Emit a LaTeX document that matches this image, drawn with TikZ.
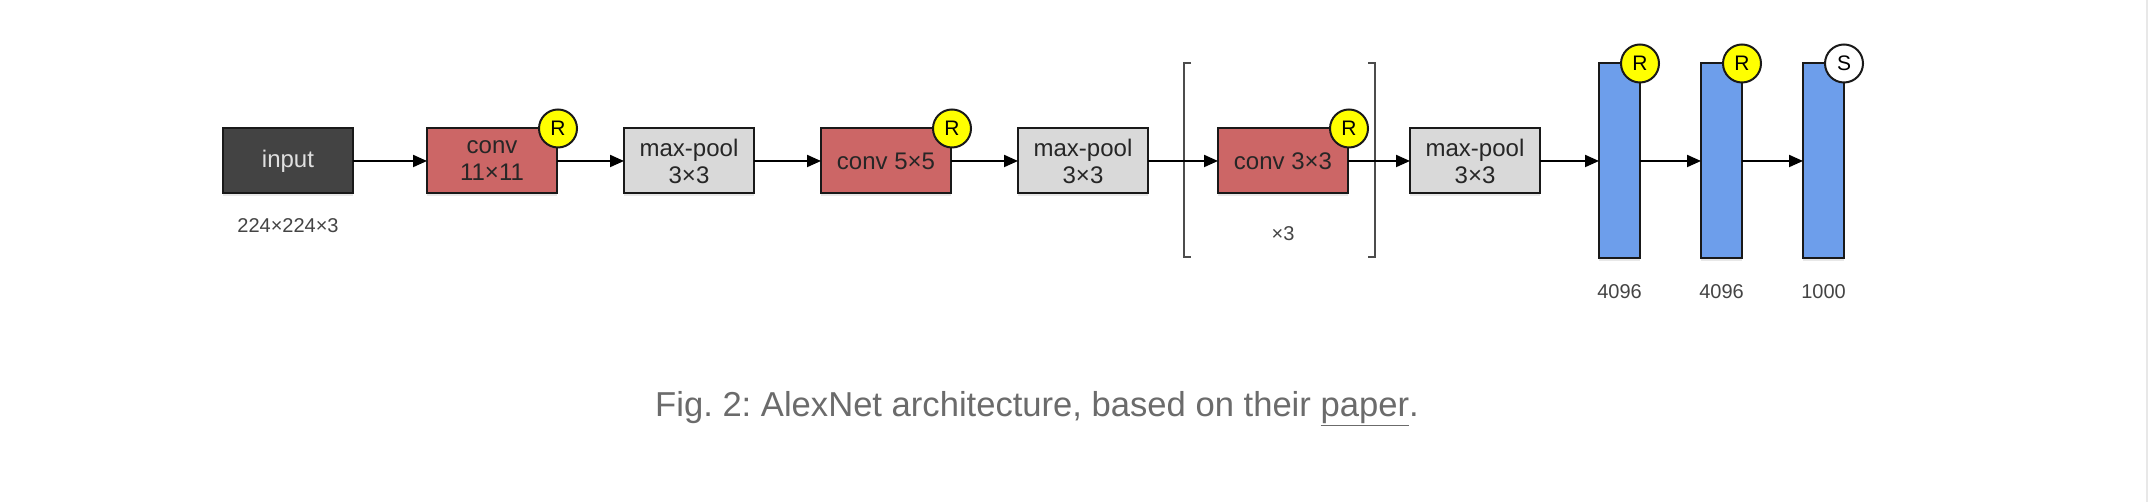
\documentclass[tikz,border=0pt]{standalone}
\usepackage{fontspec}
\setmainfont{Liberation Sans}
\usetikzlibrary{arrows.meta,positioning,shadows}
\definecolor{inputgray}{HTML}{434343}
\definecolor{convred}{HTML}{CC6666}
\definecolor{poolgray}{HTML}{D9D9D9}
\definecolor{fcblue}{HTML}{6D9EEB}
\definecolor{reluyellow}{HTML}{FFFF00}
\definecolor{labelgray}{HTML}{444444}
\definecolor{captiongray}{HTML}{6B6B6B}
\definecolor{edgegray}{HTML}{E8E8E8}
\tikzset{
  layerbox/.style={draw=black!90, line width=2pt, align=center, outer sep=0pt,
    minimum width=130pt, minimum height=65pt, inner sep=0pt,
    font=\fontsize{24}{27}\selectfont, text=black!85,
    drop shadow={shadow xshift=0pt, shadow yshift=-3pt, opacity=0.18}},
  inputbox/.style={layerbox, fill=inputgray, text=white!88!black},
  convbox/.style={layerbox, fill=convred},
  poolbox/.style={layerbox, fill=poolgray},
  fcbar/.style={layerbox, fill=fcblue, minimum width=41pt, minimum height=195pt},
  actdot/.style={circle, draw=black!90, line width=2pt, fill=reluyellow,
    minimum size=38pt, inner sep=0pt, font=\fontsize{21}{23}\selectfont},
  softdot/.style={actdot, fill=white},
  sizelabel/.style={font=\fontsize{20}{22}\selectfont, text=labelgray},
  bracket/.style={draw=black!70, line width=1.5pt},
  arr/.style={-{Triangle[length=14pt, width=12pt]}, line width=2pt, draw=black}
}
\begin{document}
\begin{tikzpicture}[x=1pt, y=1pt, node distance=67pt]
    \useasboundingbox[fill=white] (0,0) rectangle (2156,502);
    \draw[edgegray, line width=2pt] (2147,0) -- (2147,502);
    % feature layers
    \node[inputbox] (input) at (288,341) {input};
    \node[convbox, right=74pt of input] (conv1) {conv\\11×11};
    \node[poolbox, right=of conv1] (pool1) {max-pool\\3×3};
    \node[convbox, right=of pool1] (conv2) {conv 5×5};
    \node[poolbox, right=of conv2] (pool2) {max-pool\\3×3};
    \node[convbox, right=70pt of pool2] (conv3) {conv 3×3};
    \node[poolbox, right=62pt of conv3] (pool3) {max-pool\\3×3};
    % dense layers
    \node[fcbar, right=59pt of pool3] (fc1) {};
    \node[fcbar, right=61pt of fc1] (fc2) {};
    \node[fcbar, right=61pt of fc2] (fc3) {};
    % activations
    \node[actdot, xshift=1pt] (relu1) at (conv1.north east) {R};
    \node[actdot, xshift=1pt] (relu2) at (conv2.north east) {R};
    \node[actdot, xshift=1pt] (relu3) at (conv3.north east) {R};
    \node[actdot] (relu4) at (fc1.north east) {R};
    \node[actdot] (relu5) at (fc2.north east) {R};
    \node[softdot] (soft) at (fc3.north east) {S};
    % sizes
    \node[sizelabel, below=22pt of input] (insize) {224×224×3};
    \node[sizelabel, below=30pt of conv3] (repeat) {×3};
    \node[sizelabel, below=23pt of fc1] (fc1size) {4096};
    \node[sizelabel, below=23pt of fc2] (fc2size) {4096};
    \node[sizelabel, below=23pt of fc3] (fc3size) {1000};
    % repeat bracket
    \draw[bracket] (1191,439) -- (1184,439) -- (1184,245) -- (1191,245);
    \draw[bracket] (1368,439) -- (1375,439) -- (1375,245) -- (1368,245);
    \draw[arr] (input) -- (conv1);
    \draw[arr] (conv1) -- (pool1);
    \draw[arr] (pool1) -- (conv2);
    \draw[arr] (conv2) -- (pool2);
    \draw[arr] (pool2) -- (conv3);
    \draw[arr] (conv3) -- (pool3);
    \draw[arr] (pool3) -- (fc1);
    \draw[arr] (fc1) -- (fc2);
    \draw[arr] (fc2) -- (fc3);
    \node[anchor=base, font=\fontsize{34.6}{40}\selectfont, text=captiongray] (caption) at (1037,85)
      {\frenchspacing Fig.~2: AlexNet architecture, based on their \underline{paper}.};
  \end{tikzpicture}
\end{document}
